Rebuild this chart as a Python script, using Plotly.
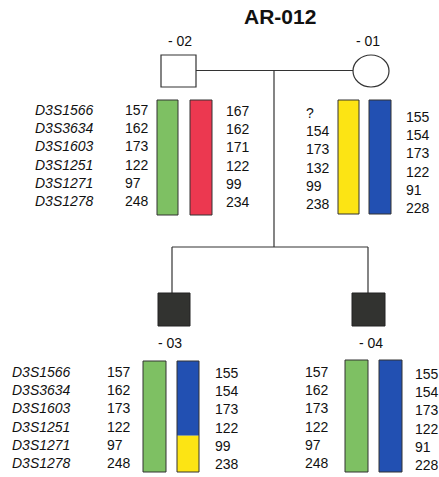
import plotly.graph_objects as go

# ---------------- data ----------------
title = "AR-012"
markers = ["D3S1566", "D3S3634", "D3S1603", "D3S1251", "D3S1271", "D3S1278"]

ids = ["- 02", "- 01", "- 03", "- 04"]

father_hap1 = ["157", "162", "173", "122", "97", "248"]
father_hap2 = ["167", "162", "171", "122", "99", "234"]
mother_hap1 = ["?", "154", "173", "132", "99", "238"]
mother_hap2 = ["155", "154", "173", "122", "91", "228"]
child03_hap1 = ["157", "162", "173", "122", "97", "248"]
child03_hap2 = ["155", "154", "173", "122", "99", "238"]
child04_hap1 = ["157", "162", "173", "122", "97", "248"]
child04_hap2 = ["155", "154", "173", "122", "91", "228"]

# haplotype origin per marker (colour key)
father_col1 = ["G"] * 6
father_col2 = ["R"] * 6
mother_col1 = ["Y"] * 6
mother_col2 = ["B"] * 6
child03_col1 = ["G"] * 6
child03_col2 = ["B", "B", "B", "B", "Y", "Y"]
child04_col1 = ["G"] * 6
child04_col2 = ["B"] * 6

# ---------------- style ----------------
COLORS = {"G": "#7ec063", "R": "#ec3850", "Y": "#fce414", "B": "#2250b2"}
FONT = "Liberation Sans, Arial, sans-serif"
W, H = 439, 477
STEP = 18.2

fig = go.Figure()
shapes = []
ann = []


def text(x, y, s, anchor="left", size=14, bold=False, italic=False):
    if bold:
        s = "<b>" + s + "</b>"
    if italic:
        s = "<i>" + s + "</i>"
    ann.append(dict(x=x, y=y, xref="x", yref="y", text=s, showarrow=False,
                    xanchor=anchor, yanchor="middle",
                    font=dict(family=FONT, size=size, color="#111111")))


def column(values, x, y0, anchor, italic=False, step=STEP):
    for i, v in enumerate(values):
        text(x, y0 + i * step, v, anchor=anchor, italic=italic)


def bar(codes, x0, x1, top, bottom, y0, step=STEP):
    n = len(codes)
    edges = [top] + [y0 + (i + 0.5) * step for i in range(n - 1)] + [bottom]
    i = 0
    while i < n:
        j = i
        while j + 1 < n and codes[j + 1] == codes[i]:
            j += 1
        shapes.append(dict(type="rect", xref="x", yref="y", x0=x0, x1=x1,
                           y0=edges[i], y1=edges[j + 1],
                           fillcolor=COLORS[codes[i]], line=dict(width=0)))
        i = j + 1
    shapes.append(dict(type="rect", xref="x", yref="y", x0=x0, x1=x1,
                       y0=top, y1=bottom, fillcolor="rgba(0,0,0,0)",
                       line=dict(color="#333333", width=1)))


def line(x0, y0, x1, y1):
    shapes.append(dict(type="line", xref="x", yref="y", x0=x0, y0=y0, x1=x1, y1=y1,
                       line=dict(color="#333333", width=1.2)))


# ---------------- pedigree lines ----------------
line(196, 70.5, 353, 70.5)
line(274, 70.5, 274, 247)
line(172, 247, 368, 247)
line(172, 247, 172, 293)
line(368, 247, 368, 293)

# symbols
shapes.append(dict(type="rect", xref="x", yref="y", x0=161, x1=196, y0=55, y1=87,
                   fillcolor="white", line=dict(color="#333333", width=1.2)))
shapes.append(dict(type="circle", xref="x", yref="y", x0=353, x1=389, y0=55, y1=87,
                   fillcolor="white", line=dict(color="#333333", width=1.2)))
shapes.append(dict(type="rect", xref="x", yref="y", x0=158, x1=190, y0=293, y1=326,
                   fillcolor="#323330", line=dict(color="#222222", width=1)))
shapes.append(dict(type="rect", xref="x", yref="y", x0=352, x1=385, y0=293, y1=326,
                   fillcolor="#323330", line=dict(color="#222222", width=1)))

# title and ids
text(280, 16, title, anchor="center", size=21, bold=True)
text(180, 41, ids[0], anchor="center")
text(368, 41, ids[1], anchor="center")
text(170, 343, ids[2], anchor="center")
text(371, 343, ids[3], anchor="center")

# ---------------- father ----------------
column(markers, 33, 110, "left", italic=True)
column(father_hap1, 123, 110, "left")
bar(father_col1, 157, 178, 100, 215, 110)
bar(father_col2, 190, 212, 100, 215, 110)
column(father_hap2, 224, 111, "left")

# ---------------- mother ----------------
column(mother_hap1, 304, 113, "left")
bar(mother_col1, 338, 359, 100, 214, 110)
bar(mother_col2, 369, 391, 100, 214, 110)
column(mother_hap2, 404, 117, "left")

# ---------------- child 03 ----------------
column(markers, 10, 372, "left", italic=True)
column(child03_hap1, 105, 372, "left")
bar(child03_col1, 143, 166, 361, 472, 372)
bar(child03_col2, 177, 199, 361, 472, 372)
column(child03_hap2, 213, 373, "left")

# ---------------- child 04 ----------------
column(child04_hap1, 303, 372, "left")
bar(child04_col1, 345, 368, 360, 472, 372)
bar(child04_col2, 379, 402, 360, 472, 372)
column(child04_hap2, 413, 374, "left")

fig.update_layout(
    width=W, height=H,
    margin=dict(l=0, r=0, t=0, b=0),
    paper_bgcolor="white", plot_bgcolor="white",
    xaxis=dict(range=[0, W], visible=False, fixedrange=True),
    yaxis=dict(range=[H, 0], visible=False, fixedrange=True),
    shapes=shapes, annotations=ann, showlegend=False,
)
fig.write_html(
    "out.html",
    config={"displayModeBar": False},
    post_script="document.body.style.margin='0';document.body.style.overflow='hidden';",
)
